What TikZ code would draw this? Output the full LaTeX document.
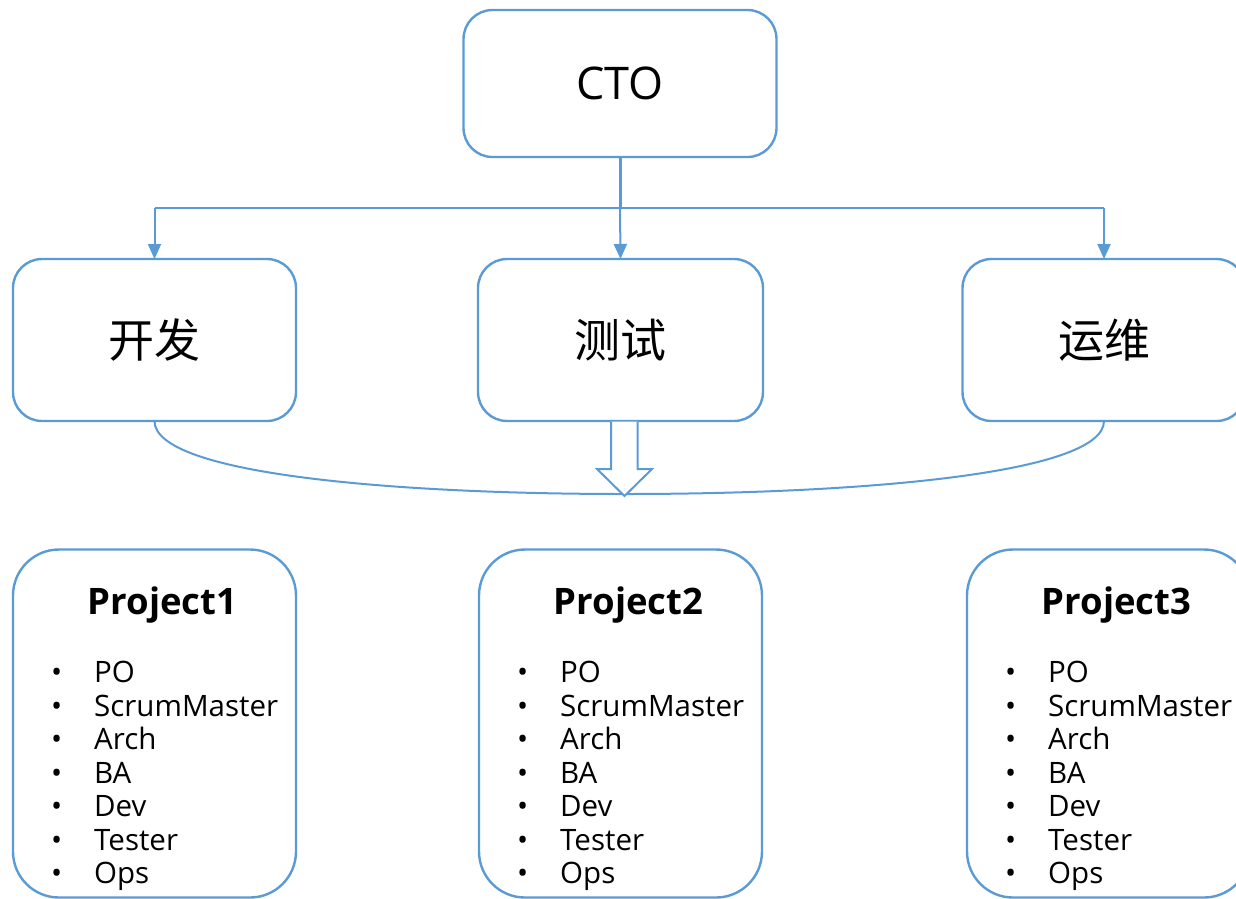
\documentclass[tikz,border=0pt]{standalone}
\usepackage{fontspec}
\setmainfont{Open Sans}
\newfontfamily\cjk{Noto Sans CJK SC}
\usetikzlibrary{arrows.meta,calc}
\definecolor{edge}{HTML}{5B9BD5}
\tikzset{
  box/.style={draw=edge, line width=2.4pt, fill=white, rounded corners=29pt, inner sep=0pt, outer sep=0pt},
  projbox/.style={box, rounded corners=46pt, minimum width=283pt, minimum height=348pt},
  conn/.style={draw=edge, line width=2pt},
  tip/.style={-{Triangle[length=15pt,width=13pt]}},
  cjktext/.style={font=\cjk\fontsize{46}{50}\selectfont},
  titletext/.style={font=\bfseries\fontsize{36.5}{40}\selectfont, anchor=base, inner sep=0pt},
  itemtext/.style={font=\fontsize{29.5}{33}\selectfont, anchor=base west, inner sep=0pt},
}
\newcommand{\blt}{\makebox[43pt][l]{\textbullet}}
\begin{document}
\begin{tikzpicture}[x=1pt,y=-1pt]
\useasboundingbox (0,0) rectangle (1236,898);
\clip (0,0) rectangle (1236,898);

% top box
\node[box, minimum width=313pt, minimum height=147pt, font=\fontsize{45}{50}\selectfont] (cto) at (620,83.5) {CTO};

% second row
\node[box, minimum width=283pt, minimum height=162pt, cjktext] (kf) at (154.5,340) {开发};
\node[box, minimum width=285pt, minimum height=162pt, cjktext] (cs) at (620.5,340) {测试};
\node[box, minimum width=283pt, minimum height=162pt, cjktext] (yw) at (1104,340) {运维};

% connectors
\coordinate (bus) at (620,208);
\draw[conn, line width=3pt] (cto.south) -- (bus);
\draw[conn] (kf.north |- bus) -- (yw.north |- bus);
\draw[conn, tip] (kf.north |- bus) -- (kf.north);
\draw[conn, tip] (bus) -- (cs.north);
\draw[conn, tip] (yw.north |- bus) -- (yw.north);

% curved bracket
\coordinate (low) at (625,494);
\draw[conn] (kf.south) .. controls ($(kf.south)+(0,54)$) and (400,494) .. (low)
  .. controls (850,494) and ($(yw.south)+(0,54)$) .. (yw.south);

% block arrow
\draw[conn, fill=white, line join=miter] (611,421.5) -- (611,469) -- (597,469) -- (624.5,496) -- (652,469) -- (637.5,469) -- (637.5,421.5);

% project boxes
\foreach \n/\cx in {1/154.5, 2/620.5, 3/1108.5}{
  \node[projbox] (p\n) at (\cx,723.5) {};
  \node[titletext] (t\n) at ($(p\n.north)+(8,65)$) {Project\n};
  \foreach \it [count=\i from 0] in {PO,ScrumMaster,Arch,BA,Dev,Tester,Ops}{
    \node[itemtext] (p\n i\i) at ($(p\n.north west)+(38,133+33.5*\i)$) {\blt\it};
  }
}
\end{tikzpicture}
\end{document}
